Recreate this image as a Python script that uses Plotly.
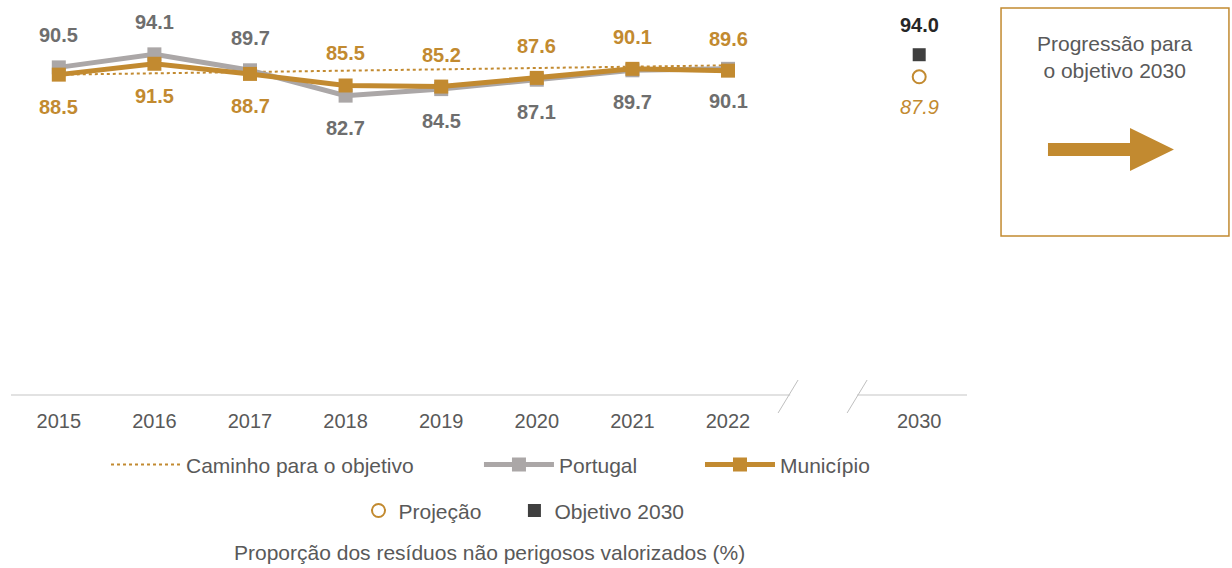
import plotly.graph_objects as go

# ---- data ----
years = ["2015", "2016", "2017", "2018", "2019", "2020", "2021", "2022"]
year_target = "2030"
portugal = [90.5, 94.1, 89.7, 82.7, 84.5, 87.1, 89.7, 90.1]
municipio = [88.5, 91.5, 88.7, 85.5, 85.2, 87.6, 90.1, 89.6]
caminho = [88.5, 88.87, 89.23, 89.6, 89.97, 90.33, 90.7, 91.07]
projecao_2030 = [87.9]
objetivo_2030 = [94.0]
pt_label_side = [1, 1, 1, -1, -1, -1, -1, -1]   # 1 above, -1 below
mu_label_side = [-1, -1, -1, 1, 1, 1, 1, 1]

GOLD = "#C28A30"
GRAY_LINE = "#ABA7A7"
GRAY_TXT = "#6E6E6E"
DARK = "#3F3F3F"
TXT = "#595959"
FONT = "Liberation Sans, Arial, sans-serif"

xs = list(range(len(years)))
x_target = len(years) + 1  # leave one slot for the axis break

fig = go.Figure()

fig.add_trace(go.Scatter(x=xs, y=caminho, mode="lines", name="Caminho para o objetivo",
                         line=dict(color=GOLD, width=2, dash="dot"), legend="legend", showlegend=True))
fig.add_trace(go.Scatter(x=xs, y=portugal, mode="lines+markers", name="Portugal",
                         line=dict(color=GRAY_LINE, width=5),
                         marker=dict(symbol="square", size=14, color=GRAY_LINE), legend="legend2"))
fig.add_trace(go.Scatter(x=xs, y=municipio, mode="lines+markers", name="Município",
                         line=dict(color=GOLD, width=5),
                         marker=dict(symbol="square", size=14, color=GOLD), legend="legend3"))
fig.add_trace(go.Scatter(x=[x_target], y=projecao_2030, mode="markers", name="Projeção",
                         marker=dict(symbol="circle-open", size=13, color=GOLD, line=dict(width=2)),
                         legend="legend4"))
fig.add_trace(go.Scatter(x=[x_target], y=objetivo_2030, mode="markers", name="Objetivo 2030",
                         marker=dict(symbol="square", size=13, color=DARK), legend="legend5"))

ann = []
for x, v, s in zip(xs, portugal, pt_label_side):
    ann.append(dict(x=x, y=v, text=f"{v:.1f}", showarrow=False, yshift=32 * s,
                    font=dict(family=FONT, size=20, color=GRAY_TXT, weight="bold")))
for x, v, s in zip(xs, municipio, mu_label_side):
    ann.append(dict(x=x, y=v, text=f"{v:.1f}", showarrow=False, yshift=32 * s,
                    font=dict(family=FONT, size=20, color=GOLD, weight="bold")))
ann.append(dict(x=x_target, y=objetivo_2030[0], text=f"{objetivo_2030[0]:.1f}", showarrow=False,
                yshift=30, font=dict(family=FONT, size=20, color="#262626", weight="bold")))
ann.append(dict(x=x_target, y=projecao_2030[0], text=f"{projecao_2030[0]:.1f}", showarrow=False,
                yshift=-30, font=dict(family=FONT, size=20, color=GOLD, style="italic")))
# box text
ann.append(dict(xref="paper", yref="paper", x=1.1548, y=0.934, xanchor="center", yanchor="middle",
                text="Progressão para<br>o objetivo 2030",
                showarrow=False, font=dict(family=FONT, size=21, color=TXT)))
# footer title
ann.append(dict(xref="paper", yref="paper", x=0.5, y=-0.436, xanchor="center", yanchor="middle",
                text="Proporção dos resíduos não perigosos valorizados (%)",
                showarrow=False, font=dict(family=FONT, size=21, color=TXT)))

AX = "#D9D9D9"
shapes = [
    dict(type="line", xref="x", yref="paper", x0=-0.5, x1=7.65, y0=0, y1=0, line=dict(color=AX, width=1.5)),
    dict(type="line", xref="x", yref="paper", x0=8.35, x1=9.5, y0=0, y1=0, line=dict(color=AX, width=1.5)),
    dict(type="line", xref="x", yref="paper", x0=7.524, x1=7.733, y0=-0.0497, y1=0.0414, line=dict(color="#BFBFBF", width=1)),
    dict(type="line", xref="x", yref="paper", x0=8.246, x1=8.455, y0=-0.0497, y1=0.0414, line=dict(color="#BFBFBF", width=1)),
    dict(type="rect", xref="paper", yref="paper", x0=1.0356, x1=1.274, y0=0.439, y1=1.069,
         line=dict(color=GOLD, width=1.5)),
    dict(type="path", xref="paper", yref="paper",
         path="M1.0847,0.6961 L1.1705,0.6961 L1.1705,0.7376 L1.2165,0.6782 L1.1705,0.6188 L1.1705,0.6602 L1.0847,0.6602 Z",
         fillcolor=GOLD, line=dict(width=0)),
]

leg_common = dict(orientation="h", yanchor="middle", xanchor="left", bgcolor="rgba(0,0,0,0)",
                  font=dict(family=FONT, size=21, color=TXT), itemwidth=70)
fig.update_layout(
    width=1232, height=568,
    margin=dict(l=11, r=265, t=33, b=173),
    showlegend=True,
    plot_bgcolor="white", paper_bgcolor="white",
    xaxis=dict(range=[-0.5, 9.5], tickvals=xs + [x_target], ticktext=years + [year_target],
               showgrid=False, zeroline=False, showline=False, ticks="", ticklabelstandoff=12,
               tickfont=dict(family=FONT, size=20, color=TXT)),
    yaxis=dict(range=[0, 100], visible=False),
    annotations=ann, shapes=shapes,
    legend=dict(x=0.0994, y=-0.193, **leg_common),
    legend2=dict(x=0.4895, y=-0.193, **leg_common),
    legend3=dict(x=0.7207, y=-0.193, **leg_common),
    legend4=dict(x=0.3635, y=-0.320, **{**leg_common, "itemwidth": 30}),
    legend5=dict(x=0.5266, y=-0.320, **{**leg_common, "itemwidth": 30}),
)
fig.update_traces(cliponaxis=False)

fig.write_html("out.html", config={"displayModeBar": False},
               post_script="document.body.style.margin='0';document.body.style.overflow='hidden';")
